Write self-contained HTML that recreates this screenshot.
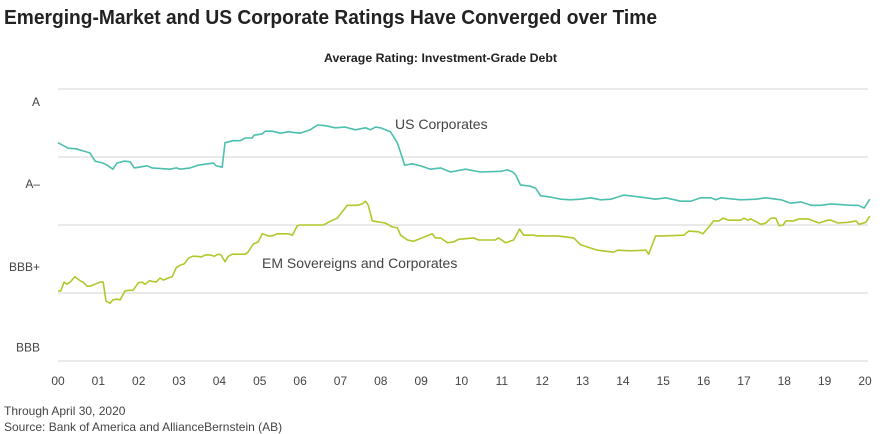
<!DOCTYPE html>
<html><head><meta charset="utf-8">
<style>
html,body{margin:0;padding:0;background:#fff;}
svg{display:block;font-family:"Liberation Sans",sans-serif;}
</style></head>
<body>
<svg id="chart" width="880" height="434" viewBox="0 0 880 434" xmlns="http://www.w3.org/2000/svg">
<text x="4" y="24" font-size="20" font-weight="bold" fill="#222" textLength="653" lengthAdjust="spacingAndGlyphs">Emerging-Market and US Corporate Ratings Have Converged over Time</text>
<text x="324" y="62" font-size="12" font-weight="bold" fill="#222" textLength="233" lengthAdjust="spacingAndGlyphs">Average Rating: Investment-Grade Debt</text>
<g id="grid"></g>
<g id="ylabels"></g>
<g id="xlabels"></g>
<g id="series"></g>
<text x="395" y="129" font-size="14" fill="#444">US Corporates</text>
<text x="262" y="268" font-size="14" fill="#444">EM Sovereigns and Corporates</text>
<text x="4" y="415" font-size="12" fill="#444">Through April 30, 2020</text>
<text x="4" y="431" font-size="12" fill="#444">Source: Bank of America and AllianceBernstein (AB)</text>
</svg>
<script>
const gridValues=[0,10,20,30,40];
const yTickLabels=["A","A–","BBB+","BBB"];
const yTickValues=[38.2,26.2,14.0,2.1];
const xTickLabels=["00","01","02","03","04","05","06","07","08","09","10","11","12","13","14","15","16","17","18","19","20"];
const usYears=[0,0.25,0.45,0.62,0.79,0.92,1.12,1.22,1.36,1.46,1.64,1.79,1.89,2.21,2.33,2.78,2.93,3.03,3.28,3.47,3.85,3.92,4.07,4.14,4.34,4.52,4.64,4.81,4.86,5.06,5.14,5.31,5.51,5.71,6.0,6.25,6.43,6.63,6.87,7.12,7.37,7.62,7.74,7.87,7.99,8.24,8.41,8.51,8.59,8.78,8.98,9.23,9.48,9.73,10.1,10.47,10.97,11.14,11.27,11.34,11.46,11.71,11.84,11.96,12.21,12.46,12.7,12.95,13.2,13.45,13.7,14.02,14.57,14.81,15.06,15.43,15.68,15.93,16.18,16.3,16.43,16.92,17.3,17.54,17.92,18.16,18.41,18.66,18.91,19.16,19.65,19.83,19.98,20.12];
const usValues=[32.1,31.3,31.2,30.9,30.6,29.4,29.1,28.8,28.2,29.1,29.4,29.3,28.4,28.7,28.4,28.2,28.4,28.2,28.4,28.8,29.1,28.7,28.5,32.1,32.4,32.4,32.8,32.8,33.2,33.4,33.8,33.8,33.5,33.7,33.5,34.0,34.7,34.6,34.3,34.4,34.0,34.3,34.0,34.4,34.3,33.7,32.1,30.3,28.8,29.0,28.7,28.2,28.4,27.8,28.2,27.8,27.9,28.1,27.8,27.4,25.9,25.7,25.4,24.3,24.1,23.8,23.7,23.8,24.0,23.7,23.8,24.4,24.0,23.8,24.0,23.5,23.5,24.0,24.0,23.7,24.0,23.7,23.8,24.0,23.7,23.2,23.4,22.9,22.9,23.1,22.9,22.9,22.5,23.8];
const emYears=[0,0.07,0.15,0.22,0.3,0.42,0.55,0.62,0.72,0.79,0.92,1.04,1.12,1.19,1.29,1.36,1.46,1.54,1.66,1.74,1.86,1.99,2.08,2.16,2.26,2.43,2.53,2.61,2.73,2.83,2.93,3.03,3.13,3.23,3.33,3.45,3.55,3.65,3.77,3.87,3.97,4.04,4.14,4.22,4.32,4.64,4.71,4.84,4.96,5.06,5.21,5.31,5.43,5.71,5.81,5.93,6.0,6.58,6.7,6.92,7.17,7.42,7.54,7.62,7.69,7.79,8.11,8.29,8.41,8.49,8.66,8.81,9.06,9.28,9.35,9.48,9.65,9.8,9.93,10.3,10.42,10.84,10.92,11.09,11.29,11.44,11.54,11.79,11.89,12.38,12.78,12.95,13.37,13.77,13.87,14.19,14.57,14.64,14.81,14.99,15.51,15.63,15.88,15.98,16.13,16.25,16.38,16.48,16.63,16.92,17.0,17.1,17.17,17.42,17.54,17.67,17.79,17.87,17.97,18.04,18.24,18.36,18.59,18.86,19.08,19.16,19.33,19.58,19.78,19.85,20.02,20.12];
const emValues=[10.3,10.3,11.6,11.3,11.6,12.4,11.8,11.6,11.0,11.0,11.3,11.6,11.6,8.8,8.5,9.0,9.1,9.0,10.3,10.4,10.4,11.5,11.6,11.3,11.8,11.6,12.2,11.9,12.2,12.4,13.7,14.1,14.3,15.1,15.4,15.4,15.3,15.6,15.6,15.4,15.7,15.6,14.6,15.4,15.7,15.7,16.0,17.2,17.5,18.7,18.4,18.4,18.7,18.7,18.5,19.9,20.0,20.0,20.4,21.0,22.9,22.9,23.1,23.5,22.9,20.6,20.3,19.7,19.6,18.5,17.8,17.6,18.2,18.7,18.1,18.1,17.4,17.5,17.9,18.1,17.8,17.8,18.1,17.4,17.8,19.4,18.5,18.5,18.4,18.4,18.1,17.1,16.3,16.0,16.3,16.2,16.3,15.7,18.4,18.4,18.5,19.1,19.0,18.7,19.7,20.6,20.6,21.0,20.7,20.7,21.0,20.7,20.9,20.1,20.3,21.0,21.0,19.9,20.0,20.6,20.6,20.9,20.9,20.3,20.7,20.7,20.3,20.4,20.6,20.1,20.4,21.3];

const NS="http://www.w3.org/2000/svg";
const X0=58,XW=40.35,Y0=361,YU=6.8;
function xs(t){return X0+t*XW;}
function ys(v){return Y0-v*YU;}
const grid=document.getElementById('grid');
gridValues.forEach(v=>{
  const l=document.createElementNS(NS,'line');
  
  
  l.setAttribute('x1',X0);l.setAttribute('x2',868);
  l.setAttribute('y1',ys(v));l.setAttribute('y2',ys(v));
  l.setAttribute('stroke','#d6d6d6');l.setAttribute('stroke-width','1');
  grid.appendChild(l);
});
const yl=document.getElementById('ylabels');
yTickLabels.forEach((s,i)=>{
  const t=document.createElementNS(NS,'text');
  
  
  t.setAttribute('x',40);t.setAttribute('y',ys(yTickValues[i])+5);
  t.setAttribute('text-anchor','end');t.setAttribute('font-size','12');t.setAttribute('fill','#444');
  t.textContent=s;yl.appendChild(t);
});
const xl=document.getElementById('xlabels');
xTickLabels.forEach((s,i)=>{
  const t=document.createElementNS(NS,'text');
  
  
  t.setAttribute('x',xs(i));t.setAttribute('y',385);
  t.setAttribute('text-anchor','middle');t.setAttribute('font-size','12');t.setAttribute('fill','#444');
  t.textContent=s;xl.appendChild(t);
});
function line(years,vals,color,name){
  const p=document.createElementNS(NS,'path');
  
  
  p.setAttribute('d',years.map((t,i)=>(i?'L':'M')+xs(t).toFixed(1)+','+ys(vals[i]).toFixed(1)).join(''));
  p.setAttribute('fill','none');p.setAttribute('stroke',color);p.setAttribute('stroke-width','1.6');
  p.setAttribute('stroke-linejoin','round');
  document.getElementById('series').appendChild(p);
}
line(usYears,usValues,'#4dbfae','us-corporates-line');
line(emYears,emValues,'#b3c62b','em-line');
</script>
</body></html>
